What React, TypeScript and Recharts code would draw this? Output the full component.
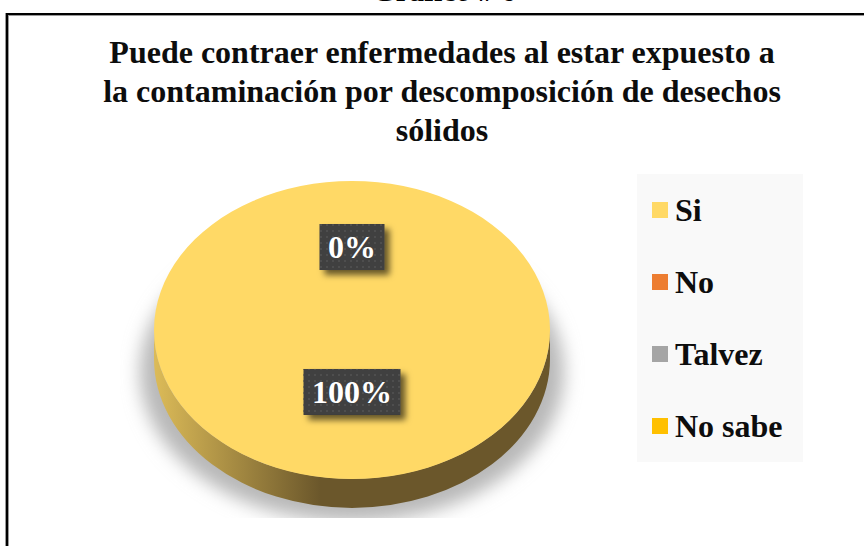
import { PieChart, Pie, Legend, Sector } from "recharts";

const categories = ["Si", "No", "Talvez", "No sabe"];
const values = [100, 0, 0, 0];
const colors = ["#ffd966", "#ed7d31", "#a5a5a5", "#ffc000"];
const title = [
  "Puede contraer enfermedades al estar expuesto a",
  "la contaminación por descomposición de desechos",
  "sólidos",
];
const heading = "Gráfico # 6";

const chartData = categories.map((name, i) => ({ name, value: values[i], fill: colors[i] }));

const serif = "'Liberation Serif', serif";
const tilt = 149 / 198; // pie is drawn as a squashed disc
const depth = 29;

function DiscSlice(props: any) {
  const { cx, cy, outerRadius, index } = props;
  const ry = outerRadius * tilt;
  const flat = `translate(0 ${cy}) scale(1 ${tilt}) translate(0 ${-cy})`;
  return (
    <g>
      {index === 0 && (
        <g>
          <g clipPath="url(#shadowClip)">
            <ellipse
              cx={cx}
              cy={cy + 42}
              rx={outerRadius + 14}
              ry={ry + 1}
              fill="#b8b8b8"
              filter="url(#soft)"
            />
          </g>
          <path
            d={`M${cx - outerRadius} ${cy} A${outerRadius} ${ry} 0 0 0 ${cx + outerRadius} ${cy} V${cy + depth} A${outerRadius} ${ry} 0 0 1 ${cx - outerRadius} ${cy + depth} Z`}
            fill="url(#discSide)"
          />
        </g>
      )}
      <g transform={flat}>
        <Sector {...props} stroke="none" />
      </g>
    </g>
  );
}

function SliceLabel(props: any) {
  const { cx, cy, midAngle, outerRadius, percent, index } = props;
  if (index > 1) return null;
  const reach = percent > 0 ? 0.416 : 0.557;
  const a = (midAngle * Math.PI) / 180;
  const x = cx + outerRadius * reach * Math.cos(a);
  const y = cy - outerRadius * tilt * reach * Math.sin(a);
  const w = percent > 0 ? 97 : 65;
  return (
    <g>
      <rect x={x - w / 2} y={y - 23} width={w} height={46} fill="#3f3f3f" filter="url(#boxShadow)" />
      <rect x={x - w / 2} y={y - 23} width={w} height={46} fill="url(#dots)" />
      <text
        x={x}
        y={y + 11}
        textAnchor="middle"
        fill="#ffffff"
        fontFamily={serif}
        fontWeight="bold"
        fontSize={32}
      >
        {`${Math.round(percent * 100)}%`}
      </text>
    </g>
  );
}

function LegendBox({ payload }: any) {
  return (
    <div style={{ width: 166, height: 288, background: "#f9f9f9", position: "relative" }}>
      {(payload || []).map((entry: any, i: number) => (
        <div
          key={entry.value}
          style={{ position: "absolute", left: 15, top: 8 + i * 72, height: 56, display: "flex", alignItems: "center" }}
        >
          <div style={{ width: 16, height: 16, background: entry.color, marginRight: 7 }} />
          <span style={{ fontFamily: serif, fontWeight: "bold", fontSize: 32, color: "#0d0d0d", whiteSpace: "nowrap" }}>
            {entry.value}
          </span>
        </div>
      ))}
    </div>
  );
}

export default function App() {
  return (
    <div style={{ position: "absolute", left: 0, top: 0, width: 864, height: 546, overflow: "hidden", background: "#fff" }}>
      <div
        style={{
          position: "absolute",
          left: 12,
          right: -12,
          top: -26,
          textAlign: "center",
          fontFamily: serif,
          fontWeight: "bold",
          fontSize: 30,
          color: "#000",
        }}
      >
        {heading}
      </div>
      <div
        style={{
          position: "absolute",
          left: 6,
          top: 13,
          width: 900,
          height: 600,
          border: "2px solid #000",
          boxSizing: "border-box",
          boxShadow: "inset 1px 1px 0 #999, -1px 0 0 #999",
        }}
      />
      <div
        style={{
          position: "absolute",
          left: 6,
          width: 872,
          top: 33,
          textAlign: "center",
          fontFamily: serif,
          fontWeight: "bold",
          fontSize: 32,
          lineHeight: "39px",
          color: "#0d0d0d",
        }}
      >
        {title.map((line) => (
          <div key={line} style={{ whiteSpace: "nowrap" }}>
            {line}
          </div>
        ))}
      </div>
      <div style={{ position: "absolute", left: 0, top: 0 }}>
        <PieChart width={864} height={546} margin={{ top: 0, right: 0, bottom: 0, left: 0 }}>
          <defs>
            <linearGradient id="discSide" x1="0" y1="0" x2="1" y2="0">
              <stop offset="0" stopColor="#dcbb58" />
              <stop offset="0.42" stopColor="#6b572b" />
              <stop offset="1" stopColor="#6b572b" />
            </linearGradient>
            <filter id="soft" x="-10%" y="-10%" width="120%" height="120%">
              <feGaussianBlur stdDeviation="9" />
            </filter>
            <filter id="boxShadow" x="-30%" y="-40%" width="170%" height="190%">
              <feDropShadow dx="5" dy="5" stdDeviation="3" floodColor="#000" floodOpacity="0.6" />
            </filter>
            <pattern id="dots" width="6" height="6" patternUnits="userSpaceOnUse">
              <rect x="2" y="2" width="2" height="2" fill="#4e4e4e" />
            </pattern>
            <clipPath id="shadowClip">
              <rect x="120" y="200" width="470" height="318" />
            </clipPath>
          </defs>
          <Pie
            data={chartData}
            dataKey="value"
            nameKey="name"
            cx={352}
            cy={330}
            outerRadius={198}
            startAngle={90}
            endAngle={-270}
            stroke="none"
            shape={DiscSlice}
            label={SliceLabel}
            labelLine={false}
            isAnimationActive={false}
          />
          <Legend
            layout="vertical"
            align="right"
            verticalAlign="top"
            content={LegendBox}
            itemSorter={null}
            wrapperStyle={{ position: "absolute", left: 637, top: 174, width: 166, height: 288 }}
          />
        </PieChart>
      </div>
    </div>
  );
}
